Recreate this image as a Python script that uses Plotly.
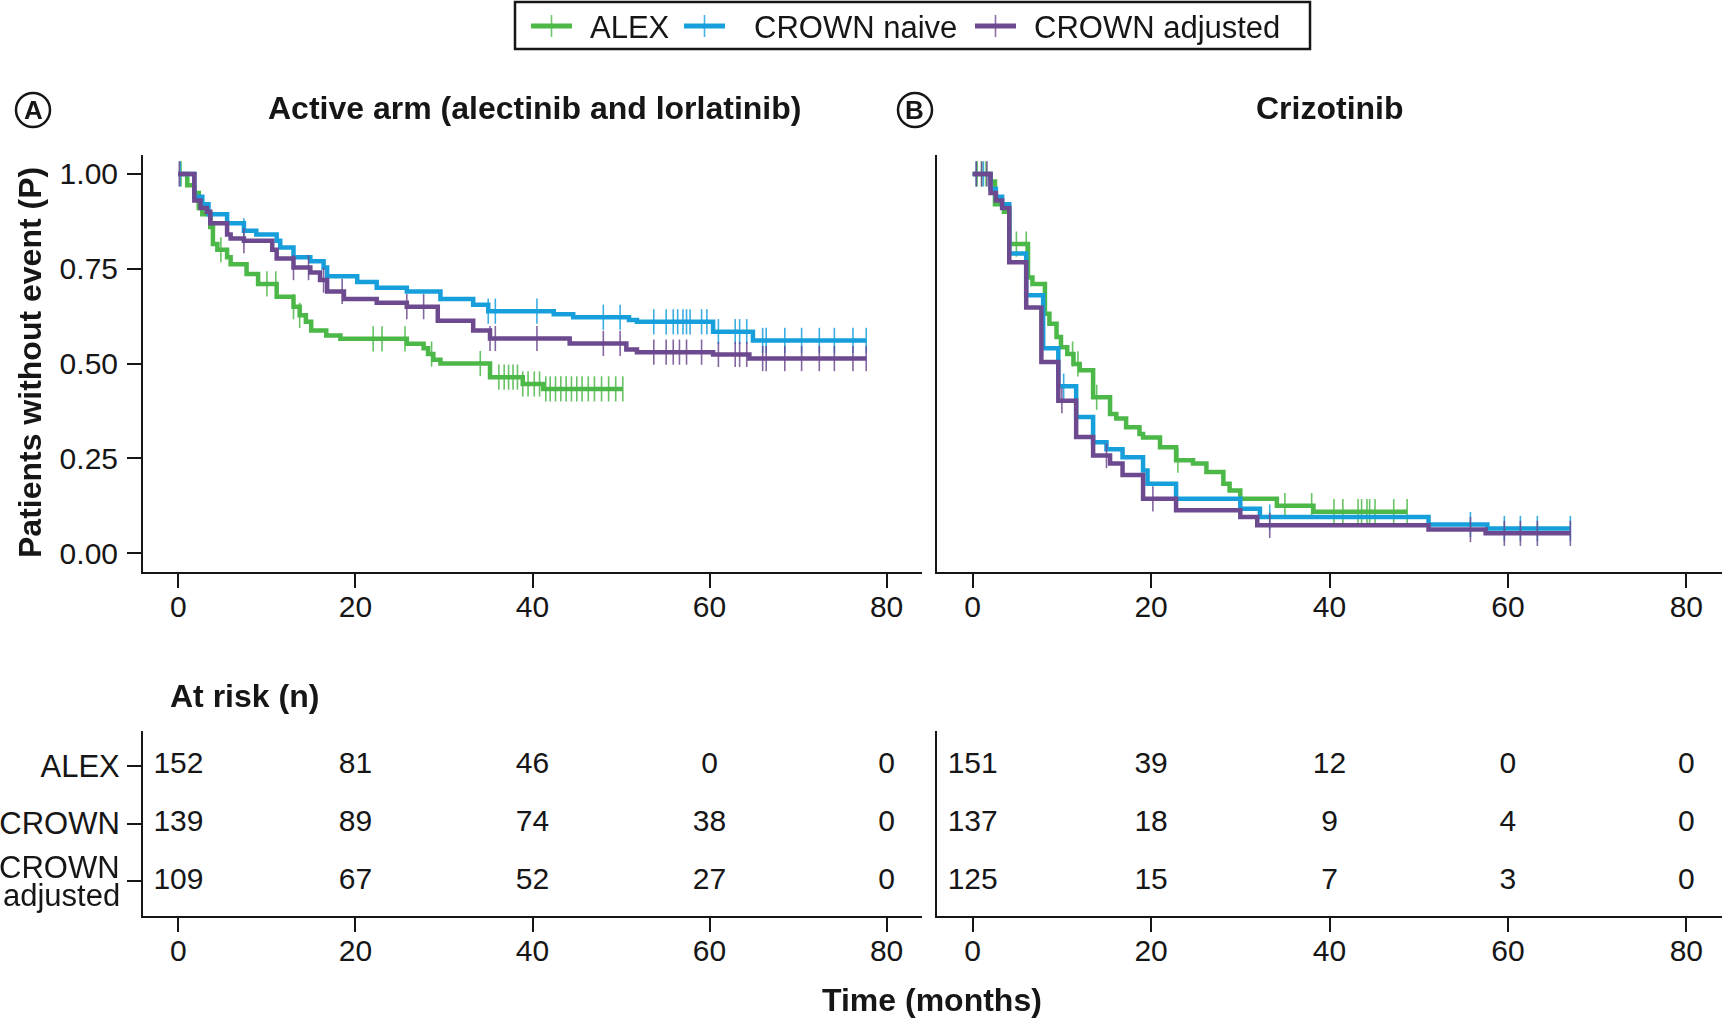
import plotly.graph_objects as go

# ---------------- data ----------------
# Panel A: Active arm (alectinib and lorlatinib)  -- step times (months) and survival after step
a_alex_t = [0, 1.0, 1.8, 2.3, 2.7, 3.6, 3.9, 4.4, 5.5, 5.9, 7.7, 9.0, 11.1, 13.0, 13.7, 14.4, 15.0,
            16.7, 18.3, 25.8, 27.7, 28.2, 28.8, 29.6, 35.2, 38.9, 41.2, 50.2]
a_alex_s = [1.0, 0.97, 0.95, 0.91, 0.894, 0.86, 0.815, 0.80, 0.78, 0.762, 0.736, 0.71, 0.676, 0.65,
            0.627, 0.61, 0.587, 0.574, 0.565, 0.552, 0.54, 0.525, 0.51, 0.50, 0.464, 0.446, 0.433, 0.433]
a_alex_cens = [0.3, 3.8, 4.8, 10.0, 11.0, 13.0, 13.7, 22.0, 23.0, 25.6, 28.6, 34.1, 36.2, 36.8, 37.3,
               37.8, 38.3, 38.9, 39.5, 40.2, 40.8, 41.5, 42.0, 42.6, 43.2, 43.8, 44.4, 45.0, 45.6,
               46.3, 47.0, 47.8, 48.6, 49.4, 50.2]

a_naive_t = [0, 1.8, 2.7, 3.4, 5.5, 7.4, 8.8, 11.1, 11.5, 13.0, 14.9, 16.4, 16.8, 20.2, 22.4, 25.8,
             29.6, 33.3, 35.0, 42.4, 44.6, 50.9, 51.8, 60.4, 64.9, 77.7]
a_naive_s = [1.0, 0.94, 0.92, 0.894, 0.87, 0.85, 0.84, 0.824, 0.806, 0.78, 0.77, 0.753, 0.73, 0.715,
             0.70, 0.69, 0.67, 0.655, 0.638, 0.630, 0.622, 0.615, 0.61, 0.584, 0.561, 0.561]
a_naive_cens = [0.2, 7.4, 35.0, 35.8, 40.5, 48.0, 49.9, 53.7, 55.1, 55.9, 56.4, 57.0, 57.4, 57.8,
                59.1, 59.7, 61.0, 62.9, 63.4, 64.2, 66.0, 66.4, 68.5, 70.4, 72.4, 74.1, 76.2, 77.7]

a_adj_t = [0, 1.8, 2.5, 3.2, 3.6, 5.5, 5.9, 7.4, 10.6, 11.1, 13.0, 14.9, 16.0, 16.8, 18.7, 22.4,
           25.8, 29.3, 33.3, 35.2, 44.2, 50.6, 51.8, 60.4, 64.5, 77.7]
a_adj_s = [1.0, 0.93, 0.91, 0.90, 0.87, 0.84, 0.83, 0.824, 0.80, 0.777, 0.753, 0.74, 0.72, 0.69,
           0.67, 0.66, 0.65, 0.613, 0.587, 0.566, 0.553, 0.537, 0.53, 0.524, 0.513, 0.513]
a_adj_cens = [0.1, 7.4, 13.0, 14.7, 16.4, 18.5, 25.8, 27.7, 35.2, 35.8, 40.5, 48.0, 49.9, 53.7,
              55.1, 55.9, 56.6, 57.4, 59.1, 61.0, 62.9, 63.4, 64.2, 66.0, 66.4, 68.5, 70.4, 72.4,
              74.1, 76.2, 77.7]

# Panel B: Crizotinib
b_alex_t = [0, 2.0, 2.5, 3.5, 4.1, 6.2, 6.7, 8.1, 8.6, 9.4, 9.9, 10.6, 11.3, 12.0, 13.5, 15.4, 16.1,
            17.2, 18.7, 19.1, 21.0, 22.8, 24.7, 26.2, 28.1, 28.8, 30.0, 34.1, 38.2, 48.7]
b_alex_s = [1.0, 0.98, 0.92, 0.90, 0.815, 0.727, 0.71, 0.631, 0.605, 0.57, 0.543, 0.525, 0.499,
            0.482, 0.411, 0.367, 0.355, 0.332, 0.314, 0.305, 0.279, 0.245, 0.236, 0.214, 0.183,
            0.165, 0.143, 0.125, 0.109, 0.109]
b_alex_cens = [0.5, 1.0, 1.5, 4.9, 6.0, 11.2, 11.8, 13.9, 23.0, 35.0, 38.0, 40.5, 41.5, 43.2, 43.6,
               44.2, 44.5, 45.1, 47.2, 48.7]

b_naive_t = [0, 2.0, 2.6, 3.3, 4.1, 6.0, 7.9, 9.6, 11.6, 13.5, 15.0, 16.8, 19.1, 19.6, 22.8, 30.0,
             32.2, 51.1, 57.7, 67.0]
b_naive_s = [1.0, 0.96, 0.94, 0.92, 0.79, 0.68, 0.54, 0.44, 0.359, 0.292, 0.274, 0.253, 0.218,
             0.183, 0.143, 0.117, 0.095, 0.075, 0.065, 0.065]
b_naive_cens = [0.4, 1.2, 10.2, 33.3, 55.8, 59.6, 61.4, 63.3, 67.0]

b_adj_t = [0, 2.0, 2.6, 3.3, 4.1, 6.0, 7.7, 9.6, 11.6, 13.5, 15.4, 16.8, 19.1, 22.8, 30.0, 31.9,
           51.1, 57.5, 67.0]
b_adj_s = [1.0, 0.95, 0.93, 0.91, 0.767, 0.648, 0.504, 0.402, 0.306, 0.257, 0.236, 0.206, 0.143,
           0.113, 0.095, 0.073, 0.062, 0.052, 0.052]
b_adj_cens = [0.4, 1.0, 1.6, 10.0, 15.0, 20.2, 33.3, 55.8, 59.6, 61.4, 63.3, 67.0]

# At-risk tables
risk_times = [0, 20, 40, 60, 80]
risk_rows = ["ALEX", "CROWN", "CROWN adjusted"]
a_risk_alex = [152, 81, 46, 0, 0]
a_risk_crown = [139, 89, 74, 38, 0]
a_risk_adj = [109, 67, 52, 27, 0]
b_risk_alex = [151, 39, 12, 0, 0]
b_risk_crown = [137, 18, 9, 4, 0]
b_risk_adj = [125, 15, 7, 3, 0]

series_names = ["ALEX", "CROWN naive", "CROWN adjusted"]
colors = ["#4cb848", "#179fdc", "#6d4a8f"]
x_ticks = [0, 20, 40, 60, 80]
y_ticks = [0, 0.25, 0.5, 0.75, 1.0]

# ---------------- layout helpers ----------------
W, H = 1722, 1020
FONT = "Liberation Sans, Arial, Helvetica, sans-serif"
INK = "#161616"


def fx(p):
    return p / W


def fy(p):
    return 1 - p / H


def step_at(ts, ss, t):
    v = ss[0]
    for ti, si in zip(ts, ss):
        if ti <= t:
            v = si
        else:
            break
    return v


fig = go.Figure()

panels = [
    ("x", "y", [(a_alex_t, a_alex_s, a_alex_cens), (a_naive_t, a_naive_s, a_naive_cens),
                (a_adj_t, a_adj_s, a_adj_cens)]),
    ("x2", "y2", [(b_alex_t, b_alex_s, b_alex_cens), (b_naive_t, b_naive_s, b_naive_cens),
                  (b_adj_t, b_adj_s, b_adj_cens)]),
]

for xa, ya, series in panels:
    for i, (ts, ss, cens) in enumerate(series):
        fig.add_trace(go.Scatter(
            x=ts, y=ss, mode="lines", name=series_names[i],
            line=dict(color=colors[i], width=4.5, shape="hv"),
            xaxis=xa, yaxis=ya, showlegend=False, hoverinfo="skip"))
        fig.add_trace(go.Scatter(
            x=cens, y=[step_at(ts, ss, c) for c in cens], mode="markers", name=series_names[i],
            marker=dict(symbol="line-ns", size=18, color=colors[i],
                        line=dict(width=1.6, color=colors[i])),
            opacity=0.85, xaxis=xa, yaxis=ya, showlegend=False, hoverinfo="skip"))

# risk tables
for xa, ya, rows in [("x3", "y3", [a_risk_alex, a_risk_crown, a_risk_adj]),
                     ("x4", "y4", [b_risk_alex, b_risk_crown, b_risk_adj])]:
    for r, vals in enumerate(rows):
        fig.add_trace(go.Scatter(
            x=risk_times, y=[3 - r] * len(risk_times), mode="text",
            text=[str(v) for v in vals], textposition="middle center",
            textfont=dict(family=FONT, size=30, color=INK),
            xaxis=xa, yaxis=ya, showlegend=False, hoverinfo="skip"))

# ---------------- axes ----------------
A_X = [fx(143), fx(922)]
B_X = [fx(937), fx(1722)]
MAIN_Y = [fy(572), fy(155)]
RISK_Y = [fy(916), fy(731)]

axis_common = dict(showline=True, linecolor=INK, linewidth=2, ticks="outside", ticklen=14,
                   tickwidth=2, tickcolor=INK, showgrid=False, zeroline=False,
                   tickfont=dict(family=FONT, size=30, color=INK))

xcommon = dict(axis_common, range=[-4, 84], tickvals=x_ticks, ticktext=[str(v) for v in x_ticks],
               ticklabelstandoff=-7)

fig.update_layout(
    xaxis=dict(xcommon, domain=A_X, anchor="y"),
    yaxis=dict(axis_common, domain=MAIN_Y, anchor="x", range=[-0.05, 1.05], tickvals=y_ticks,
               ticktext=["%.2f" % v for v in y_ticks], ticklabelstandoff=3),
    xaxis2=dict(xcommon, domain=B_X, anchor="y2"),
    yaxis2=dict(axis_common, domain=MAIN_Y, anchor="x2", range=[-0.05, 1.05], ticks="",
                showticklabels=False),
    xaxis3=dict(xcommon, domain=A_X, anchor="y3"),
    yaxis3=dict(axis_common, domain=RISK_Y, anchor="x3", range=[0.4, 3.6], tickvals=[3, 2, 1],
                ticktext=[risk_rows[0], risk_rows[1], ""], ticklabelstandoff=1,
                tickfont=dict(family=FONT, size=31, color=INK)),
    xaxis4=dict(xcommon, domain=B_X, anchor="y4"),
    yaxis4=dict(axis_common, domain=RISK_Y, anchor="x4", range=[0.4, 3.6], ticks="",
                showticklabels=False),
)

annotations = [
    dict(text="<b>Active arm (alectinib and lorlatinib)</b>", x=fx(534), y=fy(108), size=32),
    dict(text="<b>Crizotinib</b>", x=fx(1330), y=fy(108), size=32),
    dict(text="<b>A</b>", x=fx(33), y=fy(110), size=26),
    dict(text="<b>B</b>", x=fx(915), y=fy(110), size=26),
    dict(text="<b>Patients without event (P)</b>", x=fx(30), y=fy(363), textangle=-90, size=32),
    dict(text="<b>At risk (n)</b>", x=fx(168), y=fy(696), xanchor="left", size=32),
    dict(text="<b>Time (months)</b>", x=fx(932), y=fy(1000), size=32),
    # two-line row label of the risk table
    dict(text=risk_rows[2].split(" ")[0], x=fx(122), y=fy(867), xanchor="right", size=31),
    dict(text=risk_rows[2].split(" ")[1], x=fx(122), y=fy(895), xanchor="right", size=31),
]

# legend (drawn as a boxed key at the top)
leg_sym_x = [531, 684, 975]
leg_txt_x = [588, 752, 1032]
LEG_Y = 26
for i, name in enumerate(series_names):
    annotations.append(dict(text=name, x=fx(leg_txt_x[i]), y=fy(LEG_Y + 1), xanchor="left", size=31))

for a in annotations:
    a.setdefault("xanchor", "center")
    size = a.pop("size")
    a.update(xref="paper", yref="paper", yanchor="middle", showarrow=False,
             font=dict(family=FONT, color=INK, size=size))

shapes = []
for cx in (33, 915):
    shapes.append(dict(type="circle", xref="paper", yref="paper",
                       x0=fx(cx - 17), x1=fx(cx + 17), y0=fy(127), y1=fy(93),
                       line=dict(color=INK, width=2.5)))
shapes.append(dict(type="rect", xref="paper", yref="paper", x0=fx(515), x1=fx(1310),
                   y0=fy(49), y1=fy(2), line=dict(color=INK, width=2.5), fillcolor="rgba(0,0,0,0)"))
for i in range(3):
    x0 = leg_sym_x[i]
    shapes.append(dict(type="line", xref="paper", yref="paper", x0=fx(x0), x1=fx(x0 + 41),
                       y0=fy(LEG_Y), y1=fy(LEG_Y), line=dict(color=colors[i], width=5)))
    shapes.append(dict(type="line", xref="paper", yref="paper", x0=fx(x0 + 20.5), x1=fx(x0 + 20.5),
                       y0=fy(LEG_Y - 11), y1=fy(LEG_Y + 11), line=dict(color=colors[i], width=1.6),
                       opacity=0.8))

fig.update_layout(
    width=W, height=H, margin=dict(l=0, r=0, t=0, b=0),
    paper_bgcolor="white", plot_bgcolor="white",
    font=dict(family=FONT, color=INK),
    annotations=annotations, shapes=shapes,
    showlegend=False,
)

fig.write_html("out.html")
